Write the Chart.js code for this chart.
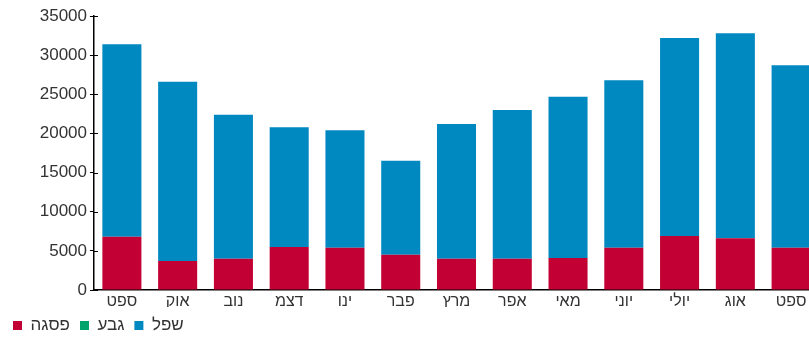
<!DOCTYPE html>
<html>
<head>
<meta charset="utf-8">
<script src="https://cdn.jsdelivr.net/npm/chart.js@4"></script>
<style>
html, body { margin: 0; padding: 0; overflow: hidden; background: #fff; }
#wrap { position: relative; width: 819px; height: 338px; }
</style>
</head>
<body>
<div id="wrap"><canvas id="chart"></canvas></div>
<script>
var months = ['ספט', 'אוק', 'נוב', 'דצמ', 'ינו', 'פבר', 'מרץ', 'אפר', 'מאי', 'יוני', 'יולי', 'אוג', 'ספט'];
var peak = [6800, 3700, 4000, 5500, 5400, 4500, 4000, 4000, 4100, 5400, 6900, 6600, 5400];
var mid = [0, 0, 0, 0, 0, 0, 0, 0, 0, 0, 0, 0, 0];
var low = [24600, 22900, 18400, 15300, 15000, 12000, 17200, 19000, 20600, 21400, 25300, 26200, 23300];
var yTickValues = [0, 2500, 5000, 7500, 10000, 12500, 15000, 17500, 20000, 22500, 25000, 27500, 30000, 32500, 35000];
var yLabels = [0, 5000, 10000, 15000, 20000, 25000, 30000, 35000];

// black major ticks cross the axis line, so draw the inner half by hand
var innerTicks = {
    id: 'innerTicks',
    afterDraw: function (chart) {
        var y = chart.scales.y;
        var c = chart.ctx;
        c.save();
        c.strokeStyle = '#000';
        c.lineWidth = 1;
        yLabels.forEach(function (v) {
            var py = Math.round(y.getPixelForValue(v)) + 0.5;
            c.beginPath();
            c.moveTo(y.right, py);
            c.lineTo(y.right + 4, py);
            c.stroke();
        });
        c.restore();
    }
};

var ctx = document.getElementById('chart').getContext('2d');
new Chart(ctx, {
    type: 'bar',
    data: {
        labels: months,
        datasets: [
            { label: 'פסגה', data: peak, backgroundColor: '#c20034' },
            { label: 'גבע', data: mid, backgroundColor: '#00a36c' },
            { label: 'שפל', data: low, backgroundColor: '#0088c0' }
        ]
    },
    options: {
        responsive: true,
        maintainAspectRatio: false,
        animation: false,
        layout: { padding: { top: 16, left: 3, right: 0, bottom: -6 } },
        datasets: { bar: { barPercentage: 0.7, categoryPercentage: 1 } },
        plugins: {
            tooltip: { enabled: false },
            legend: {
                position: 'bottom',
                align: 'start',
                labels: {
                    boxWidth: 9,
                    boxHeight: 9,
                    padding: 10,
                    color: '#333',
                    font: { family: 'Liberation Sans', size: 17 }
                }
            }
        },
        scales: {
            x: {
                stacked: true,
                afterFit: function (scale) { scale.height = 17; },
                grid: { drawOnChartArea: false, drawTicks: false },
                border: { color: '#000', width: 1.5 },
                ticks: {
                    autoSkip: false,
                    maxRotation: 0,
                    padding: 2,
                    color: '#333',
                    font: { family: 'Liberation Sans', size: 16 }
                }
            },
            y: {
                stacked: true,
                min: 0,
                max: 35000,
                afterBuildTicks: function (scale) {
                    scale.ticks = yTickValues.map(function (v) { return { value: v }; });
                },
                afterFit: function (scale) { scale.width = 91; },
                grid: {
                    drawOnChartArea: false,
                    tickLength: 4,
                    tickColor: function (c) {
                        return c.tick && c.tick.value % 5000 === 0 ? '#000' : '#e8202a';
                    }
                },
                border: { color: '#000', width: 1.5 },
                ticks: {
                    padding: 3,
                    color: '#333',
                    font: { family: 'Liberation Sans', size: 17 },
                    callback: function (v) { return yLabels.indexOf(v) >= 0 ? String(v) : ''; }
                }
            }
        }
    },
    plugins: [innerTicks]
});
</script>
</body>
</html>
